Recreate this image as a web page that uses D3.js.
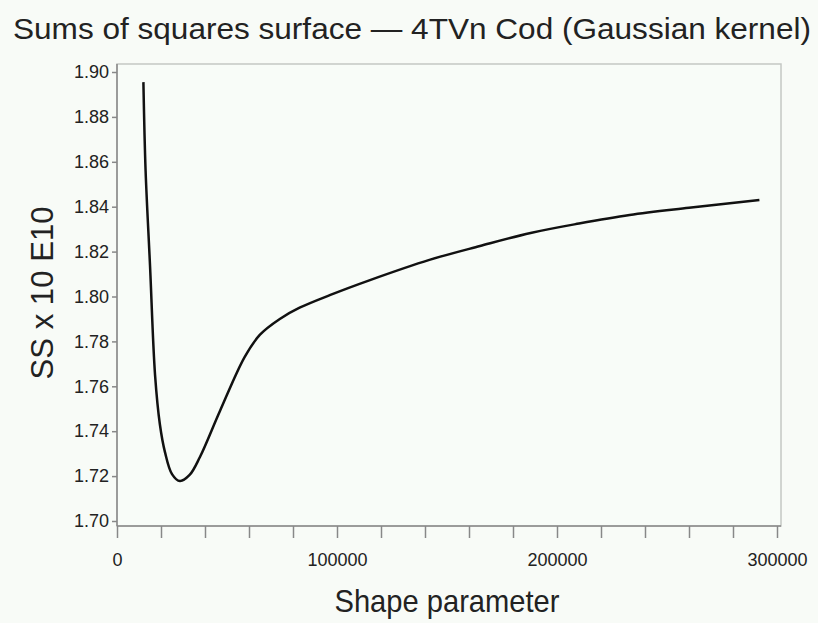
<!DOCTYPE html>
<html>
<head>
<meta charset="UTF-8">
<title>Sums of squares surface</title>
<script src="https://d3js.org/d3.v7.min.js"></script>
<style>
  body { margin: 0; background: #f8fbf7; }
  text { font-family: "Liberation Sans", Arial, sans-serif; fill: #222; }
</style>
</head>
<body>
<svg width="818" height="623"></svg>
<script>
  // shape parameter vs sums of squares (x 10 E10)
  const shape = [12000, 13000, 15000, 17300, 19500, 21800, 25000, 28600, 33000, 37700,
                 46800, 58000, 65000, 74000, 83000, 97000, 115000, 142000, 165000, 188000,
                 210000, 233000, 260000, 292000];
  const ss = [1.8955, 1.856, 1.814, 1.765, 1.743, 1.7307, 1.7209, 1.7178, 1.7205, 1.7285,
              1.749, 1.773, 1.783, 1.790, 1.795, 1.8007, 1.8073, 1.8163, 1.8225, 1.8283,
              1.8325, 1.8363, 1.8395, 1.843];
  const xTicks = [0, 100000, 200000, 300000];
  const yTicks = [1.70, 1.72, 1.74, 1.76, 1.78, 1.80, 1.82, 1.84, 1.86, 1.88, 1.90];

  const data = shape.map((s, i) => ({ x: s, y: ss[i] }));
  const svg = d3.select("svg");

  const pl = 117, pr = 781, pt = 64, pb = 526;

  const x = d3.scaleLinear().domain([0, 300000]).range([117, 777]);
  const y = d3.scaleLinear().domain([1.70, 1.90]).range([521, 72]);

  // frame
  svg.append("rect")
    .attr("x", pl).attr("y", pt)
    .attr("width", pr - pl).attr("height", pb - pt)
    .attr("fill", "#f8fcf8").attr("stroke", "#c4c8c4").attr("stroke-width", 1.5);

  // x axis: minor ticks every 20000, labels every 100000
  const xAxis = d3.axisBottom(x)
    .tickValues(d3.range(0, 300001, 20000))
    .tickSize(12).tickPadding(15)
    .tickFormat(d => xTicks.includes(d) ? d : "");
  const gx = svg.append("g").attr("transform", `translate(0,${pb})`).call(xAxis);
  gx.select(".domain").attr("d", `M${pl},0H${pr}`);

  const yAxis = d3.axisLeft(y).tickValues(yTicks).tickSize(5).tickPadding(3)
    .tickFormat(d3.format(".2f"));
  const gy = svg.append("g").attr("transform", `translate(${pl},0)`).call(yAxis);
  gy.select(".domain").attr("d", `M0,${pt}V${pb}`);

  svg.selectAll(".domain, .tick line").attr("stroke", "#888").attr("stroke-width", 1.5);
  svg.selectAll(".tick text").style("font-size", "18px").attr("fill", "#222")
    .style("font-family", "'Liberation Sans', Arial, sans-serif");

  // curve
  const line = d3.line().x(d => x(d.x)).y(d => y(d.y)).curve(d3.curveCatmullRom.alpha(0.5));
  svg.append("path").attr("d", line(data))
    .attr("fill", "none").attr("stroke", "#111").attr("stroke-width", 2.5);

  // titles
  svg.append("text").attr("x", 412).attr("y", 39).attr("text-anchor", "middle")
    .attr("textLength", 798).attr("lengthAdjust", "spacingAndGlyphs")
    .style("font-size", "30px").text("Sums of squares surface \u2014 4TVn Cod (Gaussian kernel)");
  svg.append("text").attr("x", 447).attr("y", 612).attr("text-anchor", "middle")
    .attr("textLength", 225).attr("lengthAdjust", "spacingAndGlyphs")
    .style("font-size", "32px").text("Shape parameter");
  svg.append("text").attr("transform", "translate(53,293) rotate(-90)").attr("text-anchor", "middle")
    .attr("textLength", 173).attr("lengthAdjust", "spacingAndGlyphs")
    .style("font-size", "32px").text("SS x 10 E10");
</script>
</body>
</html>
